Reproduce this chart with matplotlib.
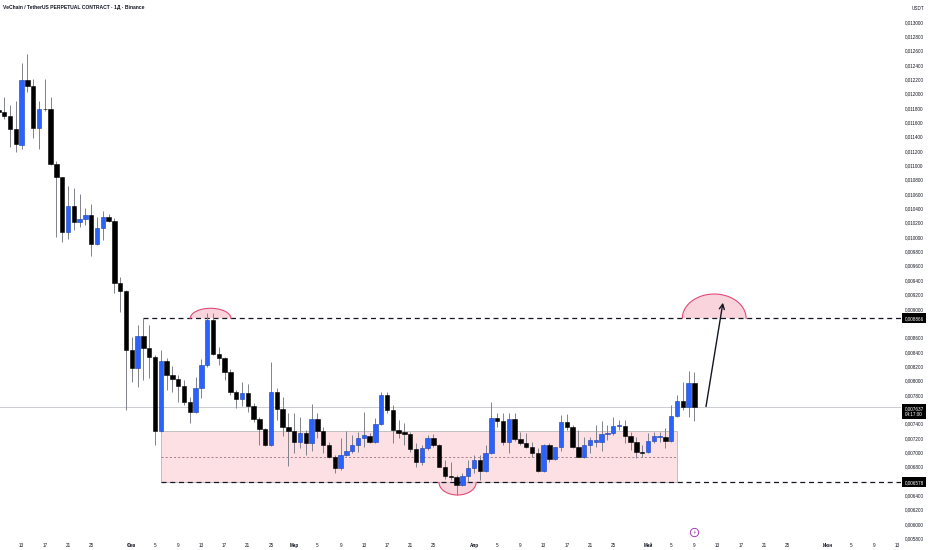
import matplotlib
matplotlib.use("Agg")
import matplotlib.pyplot as plt
import matplotlib.dates as mdates
import matplotlib.transforms as mtransforms
from matplotlib.patches import Rectangle, Polygon
import numpy as np
import pandas as pd

plt.rcParams['font.family'] = ['Liberation Sans', 'DejaVu Sans']

W, H, DPI = 932, 550, 100

title = "VeChain / TetherUS PERPETUAL CONTRACT · 1Д · Binance"
start_date = "2025-01-09"

opens = [
    0.011777, 0.011741, 0.011693, 0.011508, 0.011284, 0.012191, 0.012107, 0.011517, 0.011782, 0.011780,
    0.011020, 0.010834, 0.010075, 0.010438, 0.010215, 0.010253, 0.010308, 0.009904, 0.010131, 0.010281,
    0.010229, 0.009364, 0.009248,
    0.008426, 0.008170, 0.008621, 0.008449, 0.008332, 0.007300, 0.008276, 0.008077, 0.008021, 0.007923,
    0.007696, 0.007565, 0.007891, 0.008216, 0.008844, 0.008370, 0.008310, 0.008115, 0.007836, 0.007742,
    0.007822, 0.007649, 0.007459, 0.007324, 0.007101, 0.007844, 0.007599, 0.007356,
    0.007300, 0.007138, 0.007272, 0.007124, 0.007459, 0.007300, 0.007101, 0.006937, 0.006776, 0.006961,
    0.007017, 0.007101, 0.007202, 0.007226, 0.007147, 0.007393, 0.007798, 0.007589, 0.007310, 0.007286,
    0.007254, 0.007041, 0.006868, 0.007055, 0.007194, 0.007101, 0.006798, 0.006668, 0.006659, 0.006543, 0.006668,
    0.006776, 0.006891, 0.006742, 0.006993, 0.007482, 0.007440, 0.007147, 0.007459, 0.007180, 0.007133,
    0.007077, 0.006993, 0.006742, 0.007101, 0.006901, 0.007077, 0.007426, 0.007347, 0.007077, 0.006937,
    0.007101, 0.007147, 0.007147, 0.007254, 0.007272, 0.007366, 0.007370, 0.007230, 0.007138, 0.007007,
    0.006999, 0.007161, 0.007216, 0.007216, 0.007161, 0.007509, 0.007718, 0.007626, 0.007968,
]
highs = [
    0.011814, 0.011950, 0.011843, 0.011898, 0.012432, 0.012554, 0.012201, 0.011898, 0.012201, 0.011950,
    0.011066, 0.010834, 0.010713, 0.010681, 0.010601, 0.010402, 0.010458, 0.010285, 0.010368, 0.010322,
    0.010262, 0.009440, 0.009260,
    0.008611, 0.008774, 0.008866, 0.008774, 0.008356, 0.008426, 0.008314, 0.008202, 0.008077, 0.008007,
    0.007774, 0.008053, 0.008296, 0.008937, 0.008946, 0.008472, 0.008332, 0.008156, 0.007868, 0.007984,
    0.007951, 0.007682, 0.007495, 0.007333, 0.008262, 0.007891, 0.007774, 0.007543,
    0.007551, 0.007495, 0.007310, 0.007672, 0.007543, 0.007356, 0.007147, 0.006961, 0.007194, 0.007300,
    0.007240, 0.007286, 0.007565, 0.007264, 0.007473, 0.007844, 0.007844, 0.007658, 0.007449, 0.007411,
    0.007286, 0.007124, 0.007101, 0.007240, 0.007254, 0.007115, 0.006891, 0.006868, 0.006682, 0.006706, 0.006891,
    0.006961, 0.006961, 0.007101, 0.007705, 0.007551, 0.007543, 0.007543, 0.007543, 0.007286, 0.007264,
    0.007147, 0.007055, 0.007115, 0.007124, 0.007077, 0.007519, 0.007533, 0.007380, 0.007310, 0.007216,
    0.007216, 0.007380, 0.007440, 0.007380, 0.007487, 0.007449, 0.007449, 0.007286, 0.007216, 0.007101,
    0.007264, 0.007286, 0.007286, 0.007333, 0.007658, 0.007798, 0.007984, 0.008137, 0.008123,
]
lows = [
    0.011717, 0.011643, 0.011261, 0.011191, 0.011225, 0.012028, 0.011386, 0.011225, 0.011763, 0.011006,
    0.010006, 0.009936, 0.009974, 0.010099, 0.010145, 0.010169, 0.009741, 0.009890, 0.009960, 0.010215,
    0.009216, 0.008960, 0.007589,
    0.007984, 0.007914, 0.008007, 0.008035, 0.007101, 0.007286, 0.007868, 0.007844, 0.007705, 0.007658,
    0.007403, 0.007543, 0.007752, 0.008193, 0.008356, 0.008216, 0.008007, 0.007798, 0.007612, 0.007644,
    0.007565, 0.007426, 0.007101, 0.007087, 0.007091, 0.007449, 0.007226, 0.006808,
    0.006985, 0.007055, 0.006961, 0.007021, 0.007194, 0.006985, 0.006915, 0.006706, 0.006752, 0.006947,
    0.006985, 0.007007, 0.007077, 0.007124, 0.007124, 0.007380, 0.007543, 0.007124, 0.007194, 0.007101,
    0.007007, 0.006798, 0.006822, 0.007031, 0.007077, 0.006790, 0.006622, 0.006613, 0.006403, 0.006529, 0.006589,
    0.006706, 0.006613, 0.006728, 0.006975, 0.007356, 0.007101, 0.006985, 0.007161, 0.007101, 0.007055,
    0.006937, 0.006728, 0.006728, 0.006868, 0.006891, 0.007021, 0.007310, 0.007055, 0.006929, 0.006915,
    0.006985, 0.007077, 0.007021, 0.007170, 0.007240, 0.007310, 0.007124, 0.007031, 0.006915, 0.006937,
    0.006985, 0.007124, 0.007147, 0.007055, 0.007147, 0.007487, 0.007589, 0.007495, 0.007440,
]
closes = [
    0.011745, 0.011693, 0.011508, 0.011294, 0.012191, 0.012107, 0.011517, 0.011782, 0.011780, 0.011020,
    0.010834, 0.010075, 0.010438, 0.010215, 0.010253, 0.010308, 0.009904, 0.010131, 0.010281, 0.010229,
    0.009364, 0.009248, 0.008426,
    0.008170, 0.008621, 0.008449, 0.008332, 0.007300, 0.008276, 0.008077, 0.008021, 0.007923, 0.007696,
    0.007565, 0.007891, 0.008216, 0.008844, 0.008370, 0.008310, 0.008115, 0.007836, 0.007742, 0.007822,
    0.007649, 0.007459, 0.007324, 0.007101, 0.007844, 0.007599, 0.007356, 0.007300,
    0.007138, 0.007272, 0.007124, 0.007459, 0.007300, 0.007101, 0.006937, 0.006776, 0.006961, 0.007017,
    0.007101, 0.007202, 0.007240, 0.007147, 0.007393, 0.007798, 0.007589, 0.007310, 0.007264, 0.007254,
    0.007041, 0.006868, 0.007055, 0.007194, 0.007101, 0.006798, 0.006668, 0.006650, 0.006543, 0.006668, 0.006776,
    0.006891, 0.006742, 0.006993, 0.007482, 0.007440, 0.007147, 0.007459, 0.007180, 0.007133, 0.007077,
    0.006993, 0.006742, 0.007101, 0.006901, 0.007069, 0.007426, 0.007347, 0.007077, 0.006937, 0.007101,
    0.007170, 0.007170, 0.007254, 0.007272, 0.007366, 0.007380, 0.007230, 0.007138, 0.006999, 0.006993,
    0.007161, 0.007226, 0.007230, 0.007161, 0.007509, 0.007718, 0.007626, 0.007968, 0.007637,
]

price_ticks = [0.0130, 0.0128, 0.0126, 0.0124, 0.0122, 0.0120, 0.0118, 0.0116, 0.0114, 0.0112,
               0.0110, 0.0108, 0.0106, 0.0104, 0.0102, 0.0100, 0.0098, 0.0096, 0.0094, 0.0092,
               0.0090, 0.0086, 0.0084, 0.0082, 0.0080, 0.0078, 0.0074, 0.0072, 0.0070, 0.0068,
               0.0064, 0.0062, 0.0060, 0.0058]
date_ticks = ["2025-01-13", "2025-01-17", "2025-01-21", "2025-01-25",
              "2025-02-01", "2025-02-05", "2025-02-09", "2025-02-13", "2025-02-17", "2025-02-21", "2025-02-25",
              "2025-03-01", "2025-03-05", "2025-03-09", "2025-03-13", "2025-03-17", "2025-03-21", "2025-03-25",
              "2025-04-01", "2025-04-05", "2025-04-09", "2025-04-13", "2025-04-17", "2025-04-21", "2025-04-25",
              "2025-05-01", "2025-05-05", "2025-05-09", "2025-05-13", "2025-05-17", "2025-05-21", "2025-05-25",
              "2025-06-01", "2025-06-05", "2025-06-09", "2025-06-13"]
date_labels = ["13", "17", "21", "25",
               "Фев", "5", "9", "13", "17", "21", "25",
               "Мар", "5", "9", "13", "17", "21", "25",
               "Апр", "5", "9", "13", "17", "21", "25",
               "Май", "5", "9", "13", "17", "21", "25",
               "Июн", "5", "9", "13"]

level_top = 0.008866
level_bottom = 0.006578
last_price = 0.007637
countdown = "04:17:00"
zone_top = 0.007300
zone_mid = 0.006939
zone_start, zone_end = "2025-02-06", "2025-05-06"
top_line_start = "2025-02-03"
bottom_line_start = "2025-02-06"
# semicircle highlights: (centre date, half width in days, base price, apex price)
highlights = [("2025-02-14 14:00", 3.5, 0.008866, 0.009007),
              ("2025-03-29 04:00", 3.2, 0.006578, 0.006403),
              ("2025-05-12 10:00", 5.5, 0.008866, 0.009206)]
arrow_from = ("2025-05-11 00:00", 0.007637)
arrow_to = ("2025-05-13 22:00", 0.009085)
event_date = "2025-05-09"

BLUE = "#2962ff"
BLUE_EDGE = "#1b3fa8"
BLACK = "#000000"
WICK = "#80838c"
TEXT = "#131722"

fig = plt.figure(figsize=(W / DPI, H / DPI), dpi=DPI)
fig.patch.set_facecolor("white")
ax = fig.add_axes([0, 1 - 541 / H, 901 / W, 541 / H])
ax.set_facecolor("white")
base = mdates.date2num(pd.Timestamp("2025-01-01"))
xmin, xmax = base + 8.276, base + 163.62
ax.set_xlim(xmin, xmax)
ax.set_ylim(0.0057615, 0.0133068)
for s in ax.spines.values():
    s.set_visible(False)

d2n = lambda s: mdates.date2num(pd.Timestamp(s))

# current price line
ax.axhline(last_price, color="#c3c5cc", lw=0.6, zorder=1)

# pink zone
zx0, zx1 = d2n(zone_start), d2n(zone_end)
ax.add_patch(Rectangle((zx0, level_bottom), zx1 - zx0, zone_top - level_bottom,
                       facecolor="#fde0e4", edgecolor="#b9b9b9", lw=0.6, zorder=0.5))
ax.hlines(zone_mid, zx0, zx1, colors="#8c5a64", lw=0.5, linestyles=(0, (3, 3)), zorder=0.8)

# dashed levels
ax.hlines(level_top, d2n(top_line_start), xmax, colors=TEXT, lw=0.9, linestyles=(0, (4, 3)), zorder=2)
ax.hlines(level_bottom, d2n(bottom_line_start), xmax, colors=TEXT, lw=0.9, linestyles=(0, (4, 3)), zorder=2)

# highlights
for cdate, hw, b, apex in highlights:
    c = d2n(cdate)
    t = np.linspace(0, np.pi, 60)
    xs = c + hw * np.cos(t)
    ys = b + (apex - b) * np.sin(t)
    ax.add_patch(Polygon(np.column_stack([xs, ys]), closed=True, facecolor="#f9cdd7",
                         edgecolor="none", alpha=0.85, zorder=1.5))
    ax.plot(xs, ys, color="#e04a78", lw=0.8, zorder=2.5)

# candles
dates = pd.date_range(start_date, periods=len(opens), freq="D")
x = mdates.date2num(dates)
o, h, l, c = map(np.array, (opens, highs, lows, closes))
up = c >= o
ax.vlines(x, l, h, color=WICK, lw=0.7, zorder=3)
ax.bar(x, np.maximum(np.abs(c - o), 0.000004), bottom=np.minimum(o, c), width=0.78,
       color=np.where(up, BLUE, BLACK), edgecolor=np.where(up, BLUE_EDGE, BLACK),
       linewidth=0.4, zorder=4)

# arrow
ax.annotate("", xy=(d2n(arrow_to[0]), arrow_to[1]), xytext=(d2n(arrow_from[0]), arrow_from[1]),
            arrowprops=dict(arrowstyle="->", color=TEXT, lw=1.0, mutation_scale=9,
                            shrinkA=0, shrinkB=0), zorder=5)

# event marker
trans_xa = mtransforms.blended_transform_factory(ax.transData, ax.transAxes)
ax.plot([d2n(event_date)], [9 / 541], marker="o", ms=6, mfc="white", mec="#9c27b0", mew=0.6,
        transform=trans_xa, clip_on=False, zorder=6)
ax.text(d2n(event_date), 9 / 541, "⚡", fontsize=3.6, color="#9c27b0", ha="center", va="center",
        transform=trans_xa, family=["DejaVu Sans"], zorder=7)

# axes ticks
ax.yaxis.tick_right()
ax.set_yticks(price_ticks)
ax.set_yticklabels([f"{v:.6f}".replace(".", ",") for v in price_ticks])
ax.tick_params(axis="y", length=0, pad=3.0, labelsize=3.3, labelcolor=TEXT)
ax.set_xticks([d2n(s) for s in date_ticks])
ax.set_xticklabels(date_labels)
ax.tick_params(axis="x", length=0, pad=1.2, labelsize=3.3, labelcolor=TEXT)
for lab in ax.get_xticklabels():
    if not lab.get_text().isdigit():
        lab.set_fontweight("bold")

# price tags
trans_ay = mtransforms.blended_transform_factory(ax.transAxes, ax.transData)
tx = 904.5 / 901
for val, txt in [(level_top, f"{level_top:.6f}".replace(".", ",")),
                 (last_price, f"{last_price:.6f}".replace(".", ",") + "\n" + countdown),
                 (level_bottom, f"{level_bottom:.6f}".replace(".", ","))]:
    ax.text(tx, val, txt, transform=trans_ay, ha="left", va="top" if "\n" in txt else "center",
            fontsize=3.3, color="white", linespacing=1.1, clip_on=False, zorder=10,
            bbox=dict(boxstyle="square,pad=0.55", facecolor="#000000", edgecolor="none"))

fig.text(912 / W, 1 - 8 / H, "USDT", fontsize=3.3, color=TEXT, ha="left", va="center")
fig.text(3 / W, 1 - 7 / H, title, fontsize=3.6, color=TEXT, ha="left", va="center", fontweight="bold")

fig.savefig("out.png", dpi=DPI, facecolor="white")
